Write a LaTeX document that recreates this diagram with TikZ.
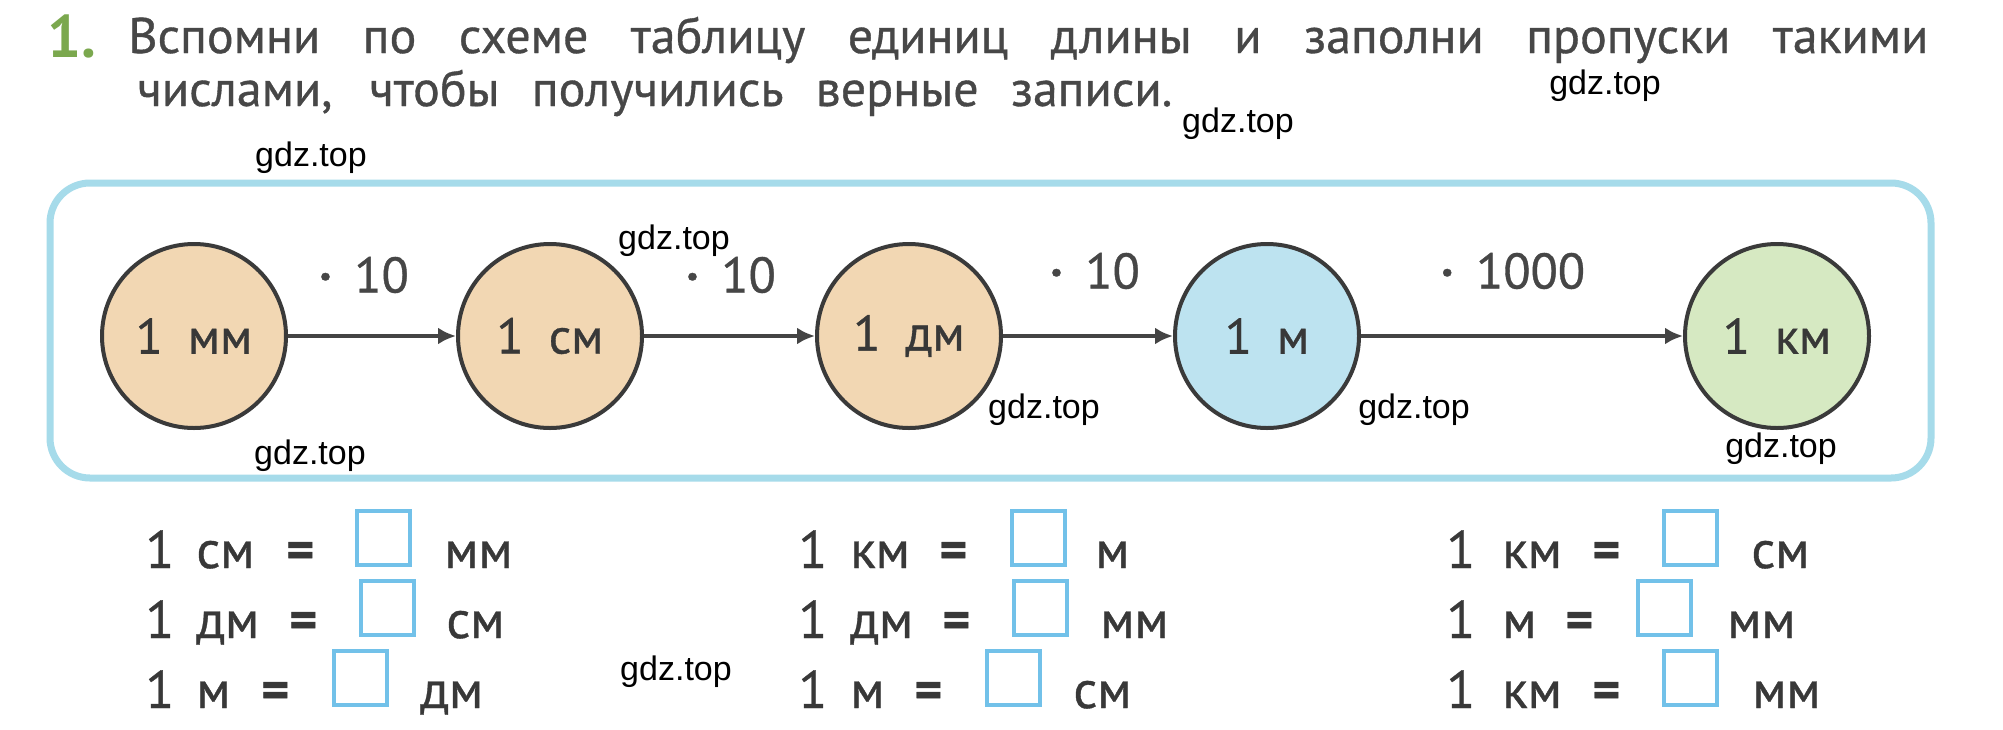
\documentclass[tikz,border=0pt]{standalone}
\usepackage{fontspec}
\setmainfont{PT Sans}
\newfontfamily\medfont{PT Sans}[FakeBold=0.7]
\newfontfamily\wmfont{Liberation Sans}
\usetikzlibrary{arrows.meta}
\definecolor{peach}{HTML}{F2D7B3}
\definecolor{skyfill}{HTML}{BDE3F0}
\definecolor{greenfill}{HTML}{D6E9C2}
\definecolor{circ}{HTML}{3A3A3A}
\definecolor{arr}{HTML}{444444}
\definecolor{txt}{HTML}{383838}
\definecolor{lbl}{HTML}{464646}
\definecolor{titletxt}{HTML}{474747}
\definecolor{numgreen}{HTML}{7BA84E}
\definecolor{framecol}{HTML}{A6DBEA}
\definecolor{boxblue}{HTML}{72C1E9}
\newcommand\eqrow[9]{%
  \node[eqtxt] (#1a) at (#3,#2) {1};
  \node[eqtxt] (#1b) at (#5,#2) {#4};
  \node[eqtxt] (#1c) at (#6,#2) {{\bfseries =}};
  \node[eqbox] (#1d) at (#7+2,#2-1) {};
  \node[eqtxt] (#1e) at (#8,#2) {#9};
}
\begin{document}
\begin{tikzpicture}[x=0.5pt,y=-0.5pt,
  unit/.style={circle, draw=circ, line width=2pt, minimum size=92pt, inner sep=0pt,
    font=\medfont\fontsize{25}{30}\selectfont, text=txt},
  conn/.style={draw=arr, line width=2.4pt, -{Latex[length=9pt,width=8.5pt]}},
  mult/.style={font=\medfont\fontsize{25}{30}\selectfont, text=lbl, inner sep=0pt},
  eqtxt/.style={font=\medfont\fontsize{26.5}{30}\selectfont, text=txt, inner sep=0pt, anchor=base west},
  eqbox/.style={draw=boxblue, line width=2pt, minimum width=26.5pt, minimum height=27pt,
    inner sep=0pt, anchor=south west},
  wm/.style={font=\wmfont\fontsize{17}{20}\selectfont, text=black, inner sep=0pt},
  frame/.style={draw=framecol, line width=3.5pt, rounded corners=20pt},
  title/.style={font=\medfont\fontsize{25}{30}\selectfont, text=titletxt, inner sep=0pt, anchor=base west}
]
\useasboundingbox[fill=white] (0,0) rectangle (2003,729);

% title
\node[font=\bfseries\fontsize{30}{34}\selectfont, text=numgreen, inner sep=0pt, anchor=base west] (num) at (47,57) {1.};
\node[title] (t1) at (128,53) {\makebox[900pt][s]{Вспомни по схеме таблицу единиц длины и заполни пропуски такими}};
\node[title] (t2) at (137,106) {\makebox[517.5pt][s]{числами, чтобы получились верные записи.}};

% frame
\draw[frame] (50,183) rectangle (1931,478);

% units
\node[unit, fill=peach] (mm) at (194,336) {1\hspace{0.5em}мм};
\node[unit, fill=peach] (cm) at (550,336) {1\hspace{0.5em}см};
\node[unit, fill=peach] (dm) at (909,336) {1\hspace{0.5em}дм};
\node[unit, fill=skyfill] (m) at (1267,336) {1\hspace{0.5em}м};
\node[unit, fill=greenfill] (km) at (1777,336) {1\hspace{0.5em}км};

\draw[conn] (mm) -- (cm);
\draw[conn] (cm) -- (dm);
\draw[conn] (dm) -- (m);
\draw[conn] (m) -- (km);

\node[mult] (l1) at (364,275) {{\bfseries ·}\hspace{0.45em}10};
\node[mult] (l2) at (731,275) {{\bfseries ·}\hspace{0.45em}10};
\node[mult] (l3) at (1095,271) {{\bfseries ·}\hspace{0.45em}10};
\node[mult] (l4) at (1513,271) {{\bfseries ·}\hspace{0.45em}1000};

% equations
\eqrow{pa}{568}{145}{см}{196}{286}{353}{444}{мм}
\eqrow{pb}{638}{145}{дм}{196}{289}{357}{446}{см}
\eqrow{pc}{708}{145}{м}{196}{261}{330}{420}{дм}
\eqrow{qa}{568}{798}{км}{850}{939}{1008}{1095}{м}
\eqrow{qb}{638}{798}{дм}{850}{942}{1010}{1100}{мм}
\eqrow{qc}{708}{798}{м}{850}{914}{983}{1073}{см}
\eqrow{ra}{568}{1446}{км}{1502}{1592}{1660}{1751}{см}
\eqrow{rb}{638}{1446}{м}{1502}{1565}{1634}{1727}{мм}
\eqrow{rc}{708}{1446}{км}{1502}{1592}{1660}{1752}{мм}

% watermarks
\node[wm] (w1) at (1605,86) {gdz.top};
\node[wm] (w2) at (1238,124) {gdz.top};
\node[wm] (w3) at (311,158) {gdz.top};
\node[wm] (w4) at (674,241) {gdz.top};
\node[wm] (w5) at (310,456) {gdz.top};
\node[wm] (w6) at (1044,410) {gdz.top};
\node[wm] (w7) at (1414,410) {gdz.top};
\node[wm] (w8) at (1781,449) {gdz.top};
\node[wm] (w9) at (676,672) {gdz.top};
\end{tikzpicture}
\end{document}
